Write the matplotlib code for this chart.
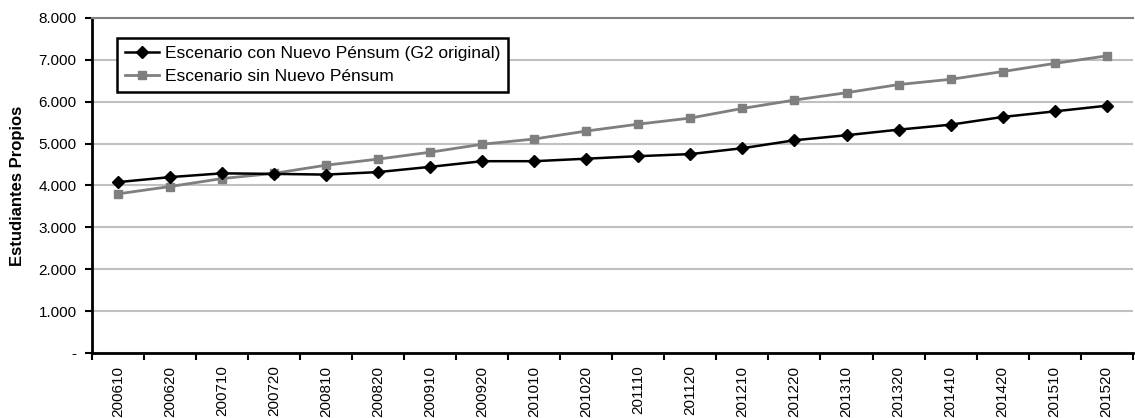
import numpy as np
import matplotlib.pyplot as plt
from matplotlib.ticker import FuncFormatter, FixedLocator

plt.rcParams['font.family'] = ['Liberation Sans', 'DejaVu Sans']

# Datos
periodos = ["200610", "200620", "200710", "200720", "200810", "200820", "200910", "200920",
            "201010", "201020", "201110", "201120", "201210", "201220", "201310", "201320",
            "201410", "201420", "201510", "201520"]
con_pensum = [4080, 4200, 4290, 4277, 4260, 4320, 4445, 4580, 4580, 4640,
              4700, 4750, 4890, 5080, 5200, 5333, 5452, 5636, 5770, 5905]
sin_pensum = [3800, 3975, 4165, 4290, 4485, 4630, 4795, 4985, 5110, 5300,
              5465, 5610, 5840, 6040, 6215, 6410, 6535, 6720, 6915, 7095]

fig = plt.figure(figsize=(11.35, 4.18), dpi=100)
ax = fig.add_axes([0.081, 0.1555, 0.917, 0.8015])

x = np.arange(len(periodos))
ax.plot(x, con_pensum, color='black', lw=1.8, marker='D', ms=6.5,
        label='Escenario con Nuevo Pénsum (G2 original)', zorder=3)
ax.plot(x, sin_pensum, color='#7f7f7f', lw=2.0, marker='s', ms=5.5,
        mfc='#7f7f7f', mec='#7f7f7f', label='Escenario sin Nuevo Pénsum', zorder=2)

ax.set_xlim(-0.5, len(periodos) - 0.5)
ax.set_ylim(0, 8000)
ax.set_yticks(np.arange(0, 8001, 1000))
ax.yaxis.set_major_formatter(FuncFormatter(
    lambda v, p: '-' if v == 0 else f"{int(v):,}".replace(',', '.')))
ax.grid(axis='y', color='#c0c0c0', lw=1.5)
ax.set_axisbelow(True)

ax.set_xticks(x)
ax.set_xticklabels(periodos, rotation=90, fontsize=11)
ax.xaxis.set_minor_locator(FixedLocator(np.arange(-0.5, len(periodos), 1)))
ax.tick_params(axis='x', which='major', length=0, pad=9)
ax.tick_params(axis='x', which='minor', length=5, width=1.5, color='black')
ax.tick_params(axis='y', length=5, width=1.5, labelsize=11, pad=6)

for s in ['left', 'bottom']:
    ax.spines[s].set_linewidth(2)
    ax.spines[s].set_color('black')
ax.spines['right'].set_visible(False)
ax.spines['top'].set_color('#808080')
ax.spines['top'].set_linewidth(1.5)

ax.set_ylabel('Estudiantes Propios', fontsize=12, fontweight='bold', labelpad=10)

leg = ax.legend(loc='upper left', bbox_to_anchor=(0.024, 0.94), fontsize=12.5,
                fancybox=False, framealpha=1, edgecolor='black', borderpad=0.45,
                handlelength=2.0, handletextpad=0.3, labelspacing=0.45, borderaxespad=0)
leg.get_frame().set_linewidth(1.8)

fig.savefig('out.png', dpi=100)
